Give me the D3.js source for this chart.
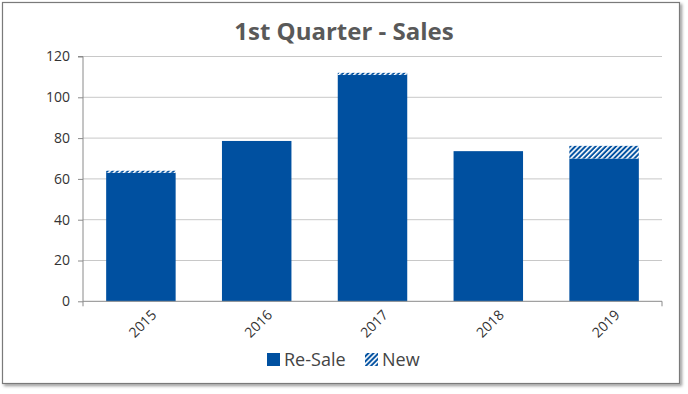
<!DOCTYPE html>
<html><head><meta charset="utf-8">
<script src="https://cdn.jsdelivr.net/npm/d3@7"></script>
<style>body{margin:0;background:#fff;font-family:"Open Sans",sans-serif}</style>
</head><body><svg id="c" width="688" height="394"></svg>
<script>
const categories = ["2015","2016","2017","2018","2019"];
const resale = [63, 78.6, 111, 73.6, 70];
const newer = [1, 0, 1, 0, 6.2];
const yTicks = [0,20,40,60,80,100,120];
const seriesNames = ["Re-Sale","New"];

const svg = d3.select("#c");
const blue = "#0050a0";
const defs = svg.append("defs");
const pat = defs.append("pattern").attr("id","hatch").attr("patternUnits","userSpaceOnUse")
  .attr("width",3.6).attr("height",3.6).attr("patternTransform","rotate(45)");
pat.append("rect").attr("width",3.6).attr("height",3.6).attr("fill",blue);
pat.append("rect").attr("x",0).attr("width",1.6).attr("height",3.6).attr("fill","#fff");
const f = defs.append("filter").attr("id","sh").attr("x","-5%").attr("y","-5%").attr("width","110%").attr("height","110%");
f.append("feDropShadow").attr("dx",2).attr("dy",2).attr("stdDeviation",1.5).attr("flood-color","#000").attr("flood-opacity",0.4);

svg.append("rect").attr("x",2.5).attr("y",2.5).attr("width",677).attr("height",381)
  .attr("fill","#fff").attr("stroke","#7a7a7a").attr("stroke-width",1.2).attr("filter","url(#sh)");

svg.append("text").attr("x",344).attr("y",40).attr("text-anchor","middle")
  .attr("font-size",24).attr("font-weight","bold").attr("fill","#595959").text("1st Quarter - Sales");

const L=83, R=662, T=56.5, B=301.3;
const x = d3.scaleBand().domain(categories).range([L,R]).paddingInner(0.4).paddingOuter(0.2);
const y = d3.scaleLinear().domain([0,120]).range([B,T]);

const g = svg.append("g");
g.selectAll(".grid").data(yTicks.filter(d=>d>0)).join("line")
  .attr("x1",L).attr("x2",R).attr("y1",d=>y(d)).attr("y2",d=>y(d))
  .attr("stroke","#c8c8c8").attr("stroke-width",1);

g.selectAll(".rs").data(categories).join("rect")
  .attr("x",d=>x(d)).attr("width",x.bandwidth())
  .attr("y",(d,i)=>y(resale[i])).attr("height",(d,i)=>B-y(resale[i])).attr("fill",blue);
g.selectAll(".nw").data(categories.filter((d,i)=>newer[i]>0)).join("rect")
  .attr("x",d=>x(d)).attr("width",x.bandwidth())
  .attr("y",d=>{const i=categories.indexOf(d);return y(resale[i]+newer[i]);})
  .attr("height",d=>{const i=categories.indexOf(d);return y(resale[i])-y(resale[i]+newer[i]);})
  .attr("fill","url(#hatch)");

const ya = g.append("g").attr("transform",`translate(${L},0)`)
  .call(d3.axisLeft(y).tickValues(yTicks).tickSize(5).tickPadding(8));
ya.select(".domain").attr("stroke","#8a8a8a").attr("d",`M-5,${T}H0V${B}`);
ya.selectAll(".tick line").attr("stroke","#8a8a8a");
ya.selectAll("text").attr("font-size",14).attr("fill","#333").attr("font-family","Open Sans");

const xa = g.append("g").attr("transform",`translate(0,${B})`)
  .call(d3.axisBottom(x).tickSize(0).tickPadding(10));
xa.select(".domain").attr("stroke","#8a8a8a").attr("d",`M${L},5V0H${R}V5`);
xa.selectAll("text").attr("font-size",14).attr("fill","#333").attr("font-family","Open Sans")
  .attr("text-anchor","end").attr("transform","translate(6,4) rotate(-45)").attr("dy","0.35em");

const lg = svg.append("g");
const items = [{n:seriesNames[0],f:blue,x:267},{n:seriesNames[1],f:"url(#hatch)",x:365}];
items.forEach(it=>{
  lg.append("rect").attr("x",it.x).attr("y",353).attr("width",13).attr("height",13).attr("fill",it.f);
  lg.append("text").attr("x",it.x+17).attr("y",366).attr("font-size",18).attr("fill","#444").text(it.n);
});
</script></body></html>
